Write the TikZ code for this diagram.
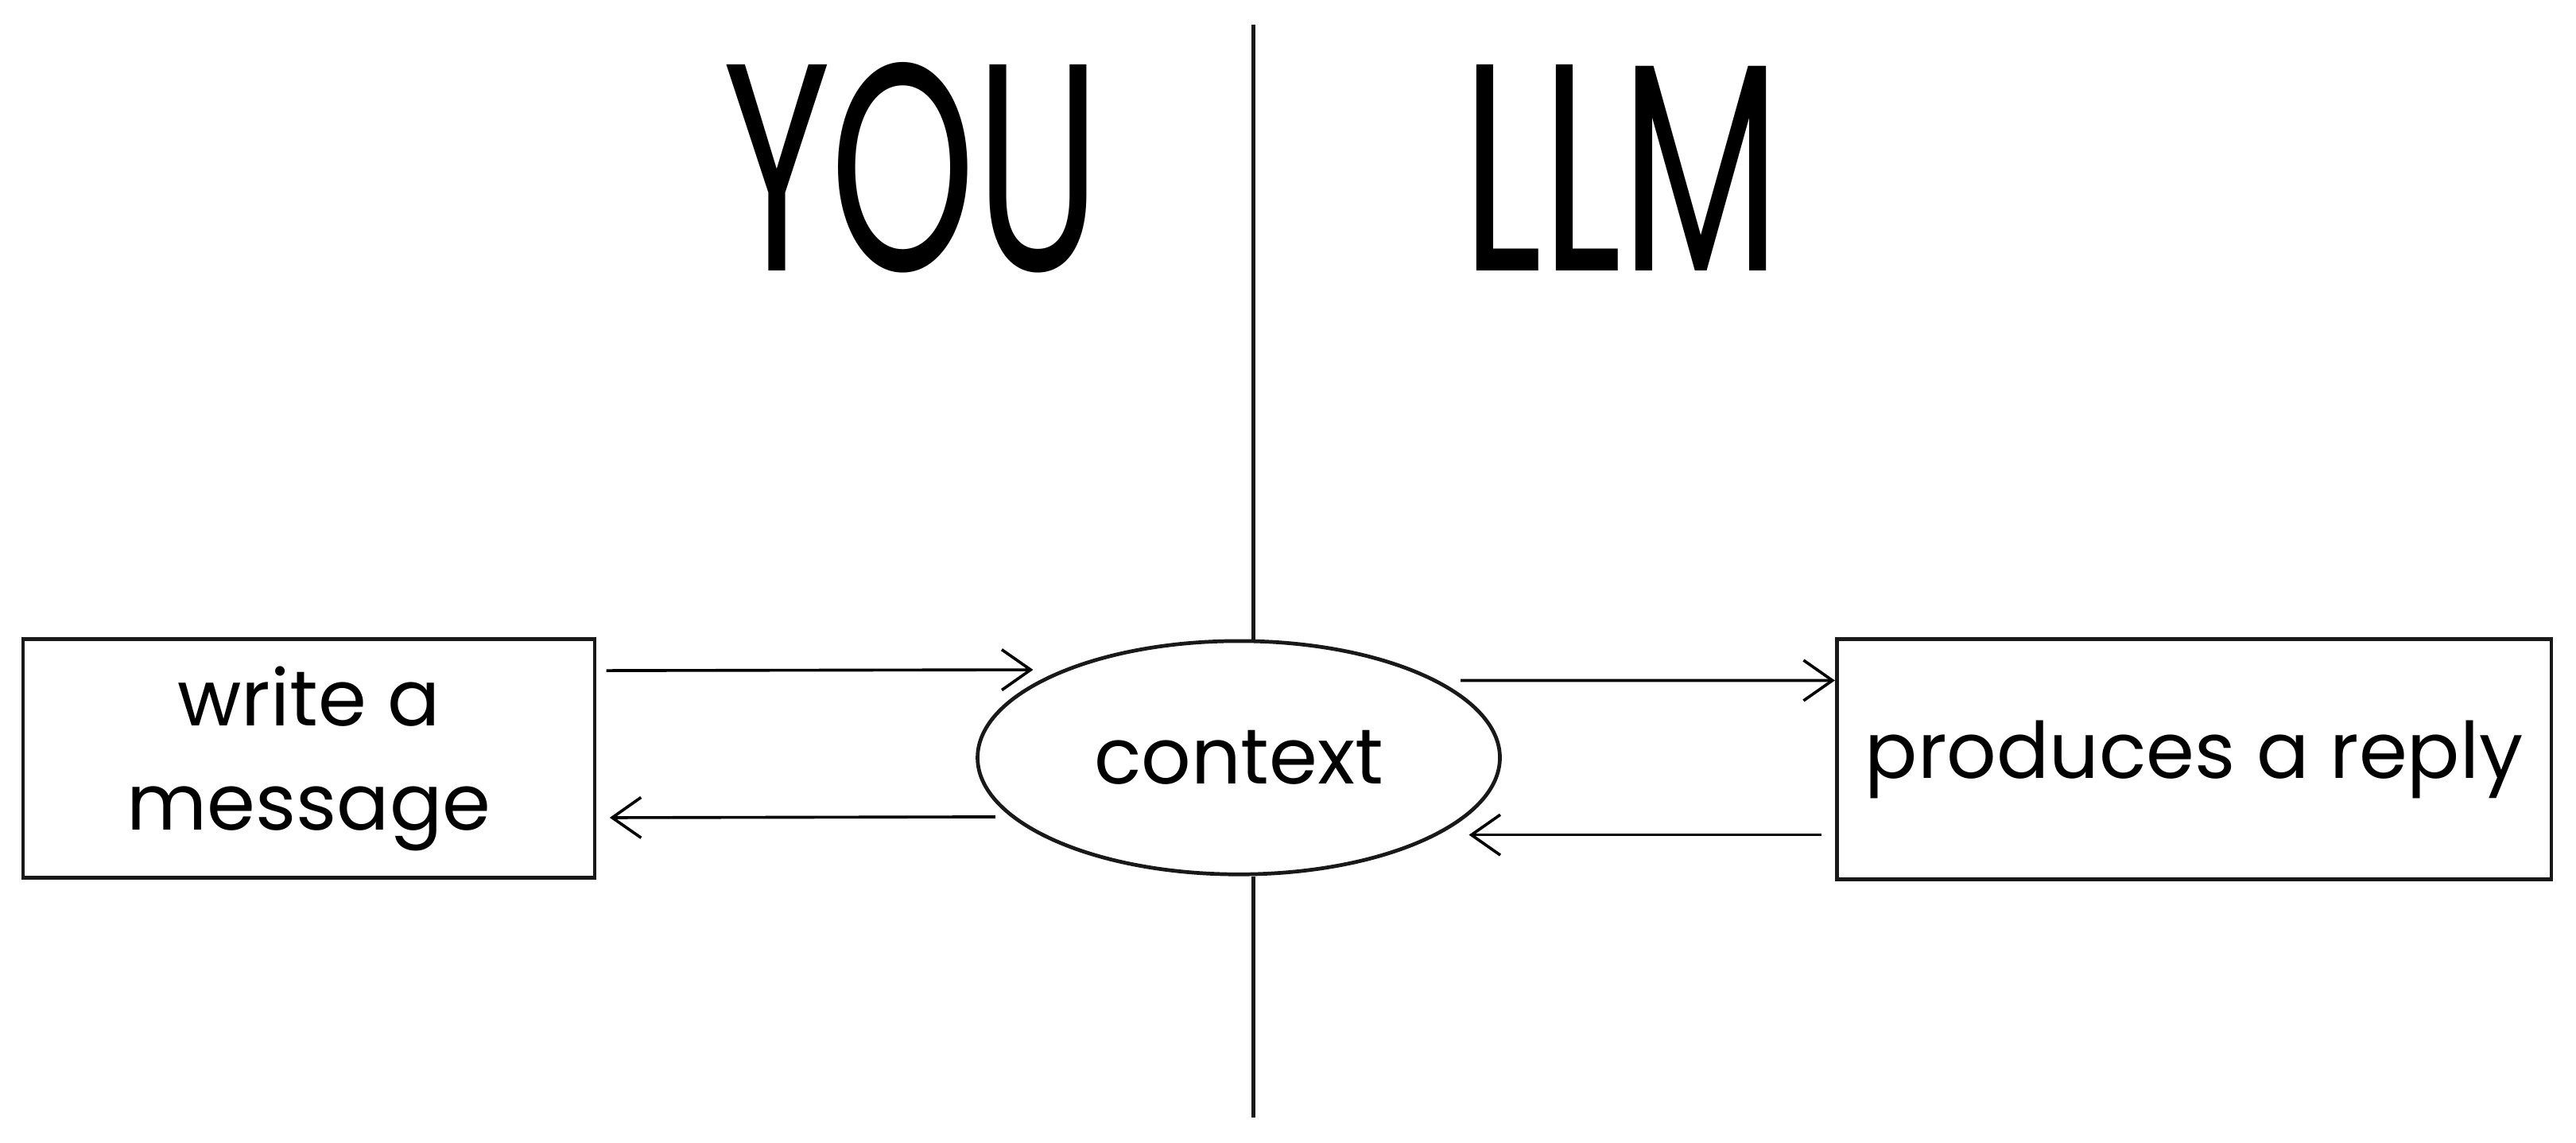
\documentclass[tikz,border=0pt]{standalone}
\usepackage{fontspec}
\setmainfont{Poppins}
\usetikzlibrary{arrows.meta,shapes.geometric}
\begin{document}
\begin{tikzpicture}[x=0.02cm,y=-0.02cm,
  ln/.style={line width=1.3pt,draw=black!90},
  box/.style={ln,rectangle,inner sep=0pt,align=center,font=\fontsize{27}{36}\selectfont},
  arr/.style={line width=1pt,-{Straight Barb[length=10pt,width=14pt]}},
  big/.style={font=\fontsize{64}{64}\selectfont}]
\useasboundingbox (0,0) rectangle (1568,695);
\node[box,minimum width=6.96cm,minimum height=2.9cm] (lb) at (188,461.5) {write a\\message};
\node[box,minimum width=8.7cm,minimum height=2.92cm] (rb) at (1335.5,462) {produces a reply};
\node[ln,ellipse,minimum width=6.36cm,minimum height=2.84cm,inner sep=0pt,font=\fontsize{27}{36}\selectfont] (ctx) at (754,461) {context};
\coordinate (top) at (763,15);
\coordinate (bot) at (763,680);
\draw[ln] (top) -- (top|-ctx.north);
\draw[ln] (bot) -- (bot|-ctx.south);
\draw[arr] ([xshift=0.12cm,yshift=1.07cm]lb.east) -- ([xshift=0.7cm,yshift=1.07cm]ctx.west);
\draw[arr] ([xshift=0.24cm,yshift=-0.72cm]ctx.west) -- ([xshift=0.16cm,yshift=-0.72cm]lb.east);
\draw[arr] ([xshift=-0.5cm,yshift=0.94cm]ctx.east) -- ([yshift=0.96cm]rb.west);
\draw[arr] ([xshift=-0.16cm,yshift=-0.92cm]rb.west) -- ([xshift=-0.4cm,yshift=-0.94cm]ctx.east);
\node[big] (you) at (555,102) {\scalebox{1}[1.6]{YOU}};
\node[big] (llm) at (987,102) {\scalebox{1}[1.6]{LLM}};
\end{tikzpicture}
\end{document}
